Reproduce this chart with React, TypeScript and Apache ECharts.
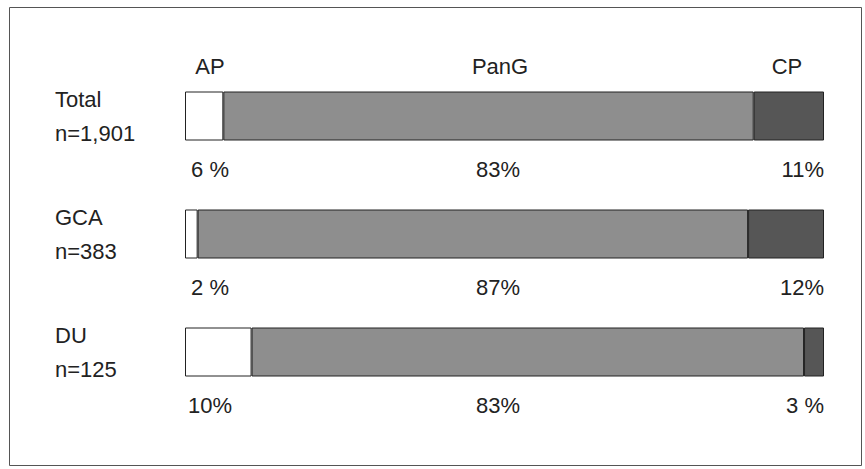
import React, { useEffect, useRef } from "react";
import * as echarts from "echarts";

const categories = ["Total\nn=1,901", "GCA\nn=383", "DU\nn=125"];
const seriesNames = ["AP", "PanG", "CP"];
const apValues = [6, 2, 10];
const pangValues = [83, 87, 83];
const cpValues = [11, 12, 3];

const FONT = "'Liberation Sans', Arial, sans-serif";
const TEXT = "#222";
const GRID_LEFT = 185;
const GRID_RIGHT = 41;
const GRID_W = 865 - GRID_LEFT - GRID_RIGHT;

export default function App() {
  const ref = useRef<HTMLDivElement>(null);

  useEffect(() => {
    if (!ref.current) return;
    const chart = echarts.init(ref.current, undefined, { renderer: "svg" });
    const rowTotals = categories.map((_, i) => apValues[i] + pangValues[i] + cpValues[i]);
    const raw = [apValues, pangValues, cpValues];
    const apNorm = apValues.map((v, i) => (v / rowTotals[i]) * 100);
    const norm = (arr: number[], k: number) =>
      arr.map((v, i) => {
        const item: any = { value: (v / rowTotals[i]) * 100, raw: v };
        if (k === 1) {
          // centre the middle label under the middle of the whole bar
          item.label = { position: [((49 - apNorm[i]) / 100) * GRID_W, 78] };
        }
        return item;
      });
    const fmt = (p: any) => {
      const v = p.data.raw as number;
      return v < 10 ? `${v} %` : `${v}%`;
    };
    const labelBase = {
      show: true,
      formatter: fmt,
      fontSize: 22,
      fontFamily: FONT,
      color: TEXT,
      verticalAlign: "middle" as const,
    };
    const colors = ["#ffffff", "#8e8e8e", "#565656"];
    const labelPos: any[] = [
      { position: [25, 78], align: "center" },
      { position: ["50%", 78], align: "center" },
      { position: ["100%", 78], align: "right" },
    ];
    const series = raw.map((arr, k) => ({
      name: seriesNames[k],
      type: "bar",
      stack: "all",
      barWidth: 49,
      data: norm(arr, k),
      itemStyle: { color: colors[k], borderColor: "#222", borderWidth: 1 },
      label: { ...labelBase, ...labelPos[k] },
      emphasis: { disabled: true },
    }));

    const headerX = [210, 500, 787];
    const graphic: any[] = [
      {
        type: "rect",
        shape: { x: 9.5, y: 7.5, width: 852, height: 458 },
        style: { fill: "none", stroke: "#555", lineWidth: 1 },
        silent: true,
      },
      ...seriesNames.map((n, k) => ({
        type: "text",
        x: headerX[k],
        y: 66,
        style: {
          text: n,
          font: `22px ${FONT}`,
          fill: TEXT,
          align: "center",
          verticalAlign: "middle",
          textAlign: "center",
          textVerticalAlign: "middle",
        },
        silent: true,
      })),
    ];

    chart.setOption({
      animation: false,
      backgroundColor: "#ffffff",
      grid: { left: GRID_LEFT, right: GRID_RIGHT, top: 57, bottom: 58 },
      xAxis: {
        type: "value",
        min: 0,
        max: 100,
        show: false,
      },
      yAxis: {
        type: "category",
        inverse: true,
        data: categories,
        axisLine: { show: false },
        axisTick: { show: false },
        axisLabel: {
          align: "left",
          margin: 130,
          fontSize: 22,
          lineHeight: 34,
          fontFamily: FONT,
          color: TEXT,
        },
      },
      series,
      graphic,
    });
    return () => chart.dispose();
  }, []);

  return (
    <div
      ref={ref}
      style={{ position: "absolute", left: 0, top: 0, width: 865, height: 469 }}
    />
  );
}
